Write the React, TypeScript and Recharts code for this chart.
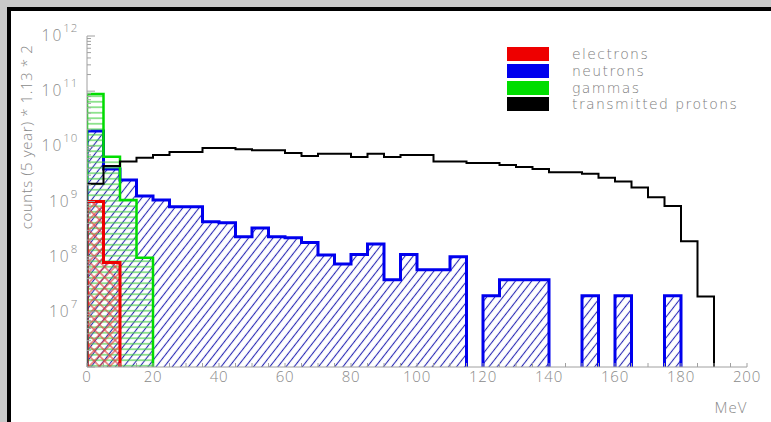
import {
  ComposedChart,
  Area,
  Line,
  XAxis,
  YAxis,
  Legend,
  Label,
} from 'recharts'

// bin low edges (MeV), each bin is 5 MeV wide
const BIN_LOW = [
  0, 5, 10, 15, 20, 25, 30, 35, 40, 45, 50, 55, 60, 65, 70, 75, 80, 85, 90, 95,
  100, 105, 110, 115, 120, 125, 130, 135, 140, 145, 150, 155, 160, 165, 170, 175, 180, 185, 190, 195,
]
const BIN_WIDTH = 5

const electrons = [
  1.0e9, 7.8e7, 0, 0, 0, 0, 0, 0, 0, 0, 0, 0, 0, 0, 0, 0, 0, 0, 0, 0,
  0, 0, 0, 0, 0, 0, 0, 0, 0, 0, 0, 0, 0, 0, 0, 0, 0, 0, 0, 0,
]
const neutrons = [
  1.9e10, 3.9e9, 2.45e9, 1.26e9, 1.07e9, 8.0e8, 8.0e8, 4.3e8, 4.1e8, 2.3e8,
  3.3e8, 2.3e8, 2.2e8, 1.8e8, 1.07e8, 7.4e7, 1.1e8, 1.7e8, 3.8e7, 1.1e8,
  5.8e7, 5.8e7, 1.0e8, 0, 1.95e7, 3.8e7, 3.8e7, 3.8e7, 0, 0,
  1.95e7, 0, 1.95e7, 0, 0, 1.95e7, 0, 0, 0, 0,
]
const gammas = [
  8.9e10, 6.5e9, 1.07e9, 9.6e7, 0, 0, 0, 0, 0, 0, 0, 0, 0, 0, 0, 0, 0, 0, 0, 0,
  0, 0, 0, 0, 0, 0, 0, 0, 0, 0, 0, 0, 0, 0, 0, 0, 0, 0, 0, 0,
]
const protons = [
  2.1e9, 4.4e9, 5.3e9, 6.2e9, 7.0e9, 7.9e9, 7.9e9, 9.3e9, 9.3e9, 8.9e9,
  8.5e9, 8.5e9, 7.6e9, 6.7e9, 7.3e9, 7.3e9, 6.4e9, 7.3e9, 6.4e9, 7.0e9,
  7.0e9, 5.3e9, 5.3e9, 5.0e9, 5.0e9, 4.6e9, 4.2e9, 3.9e9, 3.4e9, 3.4e9,
  3.2e9, 2.7e9, 2.3e9, 1.8e9, 1.2e9, 8.3e8, 1.9e8, 1.9e7, 0, 0,
]

const SERIES_NAMES = ['electrons', 'neutrons', 'gammas', 'transmitted protons']
const SERIES_COLORS = ['#ee0000', '#0000ee', '#00dd00', '#000000']

const X_TICKS = [
  0, 5, 10, 15, 20, 25, 30, 35, 40, 45, 50, 55, 60, 65, 70, 75, 80, 85, 90, 95,
  100, 105, 110, 115, 120, 125, 130, 135, 140, 145, 150, 155, 160, 165, 170, 175, 180, 185, 190, 195, 200,
]
const X_LABELS = [0, 20, 40, 60, 80, 100, 120, 140, 160, 180, 200]
const Y_DECADES = [1e6, 1e7, 1e8, 1e9, 1e10, 1e11, 1e12]
const Y_LABELED = [1e7, 1e8, 1e9, 1e10, 1e11, 1e12]
const Y_FLOOR = 1e6

const Y_TICKS = Y_DECADES.flatMap((d, i) =>
  i === Y_DECADES.length - 1 ? [d] : [d, 2 * d, 3 * d, 4 * d, 5 * d, 6 * d, 7 * d, 8 * d, 9 * d]
)

const AXIS_GREY = '#a0a0a0'
const TEXT_GREY = '#8a8a8a'
const FONT = "'Open Sans', 'DejaVu Sans', sans-serif"
const LEGEND_FONT = "'DejaVu Sans', sans-serif"

type Pt = { x: number; y: number | null }

// histogram outline: vertical edges down to the floor, breaks at empty bins
function outline(values: number[]): Pt[] {
  const pts: Pt[] = []
  let open = false
  values.forEach((v, i) => {
    const lo = BIN_LOW[i]
    const hi = lo + BIN_WIDTH
    if (v > 0) {
      if (!open) {
        pts.push({ x: lo, y: Y_FLOOR })
        open = true
      }
      pts.push({ x: lo, y: v }, { x: hi, y: v })
    } else if (open) {
      pts.push({ x: lo, y: Y_FLOOR }, { x: lo, y: null })
      open = false
    }
  })
  if (open) pts.push({ x: BIN_LOW[BIN_LOW.length - 1] + BIN_WIDTH, y: Y_FLOOR })
  return pts
}

function XTick(props: any) {
  const { x, y, payload } = props
  const v = payload.value
  return (
    <g>
      <line x1={x} x2={x} y1={y} y2={y - 4} stroke={AXIS_GREY} />
      {X_LABELS.includes(v) && (
        <text x={x} y={y + 15} textAnchor="middle" fill={TEXT_GREY} fontSize={15} letterSpacing={0.8} fontFamily={FONT} fontWeight={300}>
          {v}
        </text>
      )}
    </g>
  )
}

function YTick(props: any) {
  const { x, y, payload } = props
  const v = payload.value
  const major = Y_DECADES.some((d) => Math.abs(d - v) < d * 1e-6)
  const exp = Math.round(Math.log10(v))
  return (
    <g>
      <line x1={x} x2={x + (major ? 8 : 4)} y1={y} y2={y} stroke={AXIS_GREY} />
      {Y_LABELED.some((d) => Math.abs(d - v) < d * 1e-6) && (
        <text x={x - 9} y={y + 5} textAnchor="end" fill={TEXT_GREY} fontFamily={FONT} fontWeight={300}>
          <tspan fontSize={15.5} letterSpacing={2}>10</tspan>
          <tspan fontSize={11.5} dy={-9} letterSpacing={0.8}>{exp}</tspan>
        </text>
      )}
    </g>
  )
}

function LegendBox() {
  return (
    <div style={{ fontFamily: LEGEND_FONT, fontWeight: 200 }}>
      {SERIES_NAMES.map((name, i) => (
        <div key={name} style={{ display: 'flex', alignItems: 'center', height: 16.7 }}>
          <div style={{ width: 42, height: 14, background: SERIES_COLORS[i], marginRight: 23, flexShrink: 0 }} />
          <span
            style={{
              display: 'inline-block',
              color: '#7c7c7c',
              fontSize: 14,
              letterSpacing: 1.4,
              lineHeight: '14px',
              whiteSpace: 'nowrap',
            }}
          >
            {name}
          </span>
        </div>
      ))}
    </div>
  )
}

export default function App() {
  const ePts = outline(electrons)
  const nPts = outline(neutrons)
  const gPts = outline(gammas)
  const pPts = outline(protons)

  return (
    <div style={{ position: 'absolute', left: 0, top: 0, width: 771, height: 422, background: '#c9c9c9', overflow: 'hidden' }}>
      <div
        style={{
          position: 'absolute',
          left: 7,
          top: 7,
          width: 764,
          height: 415,
          background: '#ffffff',
          borderTop: '4px solid #000',
          borderLeft: '4px solid #000',
          boxSizing: 'border-box',
        }}
      />
      <div style={{ position: 'absolute', left: 0, top: 0 }}>
        <ComposedChart width={771} height={422} margin={{ top: 36, right: 24, bottom: 25, left: 27 }}>
          <defs>
            <pattern id="hatchBlue" patternUnits="userSpaceOnUse" width="6.4" height="6.4" patternTransform="rotate(-52)">
              <line x1="0" y1="3.2" x2="6.4" y2="3.2" stroke="#2a2ab4" strokeWidth="1.1" />
            </pattern>
            <pattern id="hatchGreen" patternUnits="userSpaceOnUse" width="6" height="5.5">
              <line x1="0" y1="2.75" x2="6" y2="2.75" stroke="#3fcf3f" strokeWidth="1.1" />
            </pattern>
            <pattern id="hatchRed" patternUnits="userSpaceOnUse" width="7.4" height="7.4" patternTransform="rotate(45)">
              <line x1="0" y1="3.7" x2="7.4" y2="3.7" stroke="#e04040" strokeWidth="1.1" />
              <line x1="3.7" y1="0" x2="3.7" y2="7.4" stroke="#e04040" strokeWidth="1.1" />
            </pattern>
          </defs>
          <XAxis
            dataKey="x"
            type="number"
            domain={[0, 200]}
            ticks={X_TICKS}
            interval={0}
            height={30}
            tickSize={0}
            tickMargin={0}
            tickLine={false}
            axisLine={{ stroke: AXIS_GREY }}
            tick={<XTick />}
            allowDataOverflow
          >
            <Label
              content={() => (
                <text x={731} y={413} textAnchor="middle" fill={TEXT_GREY} fontSize={15} letterSpacing={1} fontFamily={FONT} fontWeight={300}>
                  MeV
                </text>
              )}
            />
          </XAxis>
          <XAxis xAxisId="top" orientation="top" type="number" domain={[0, 200]} height={0} tick={false} tickLine={false} axisLine={{ stroke: AXIS_GREY }} />
          <YAxis
            scale="log"
            type="number"
            domain={[Y_FLOOR, 1e12]}
            ticks={Y_TICKS}
            interval={0}
            width={60}
            tickSize={0}
            tickMargin={0}
            tickLine={false}
            axisLine={{ stroke: AXIS_GREY }}
            tick={<YTick />}
            allowDataOverflow
          >
            <Label
              content={() => (
                <text
                  x={28}
                  y={137}
                  transform="rotate(-90 28 137)"
                  textAnchor="middle"
                  dominantBaseline="middle"
                  fill={TEXT_GREY}
                  fontSize={15}
                  letterSpacing={0.6}
                  fontFamily={FONT}
                  fontWeight={300}
                >
                  counts (5 year) * 1.13 * 2
                </text>
              )}
            />
          </YAxis>
          <YAxis yAxisId="right" orientation="right" width={0} tick={false} tickLine={false} axisLine={{ stroke: AXIS_GREY }} />
          <Legend
            layout="vertical"
            align="center"
            verticalAlign="middle"
            wrapperStyle={{ top: 46, left: 507, width: 240 }}
            content={() => <LegendBox />}
          />
          <Area
            data={nPts}
            dataKey="y"
            type="linear"
            baseValue={Y_FLOOR}
            stroke={SERIES_COLORS[1]}
            strokeWidth={3}
            fill="url(#hatchBlue)"
            fillOpacity={1}
            isAnimationActive={false}
            dot={false}
            activeDot={false}
          />
          <Area
            data={gPts}
            dataKey="y"
            type="linear"
            baseValue={Y_FLOOR}
            stroke={SERIES_COLORS[2]}
            strokeWidth={2.5}
            fill="url(#hatchGreen)"
            fillOpacity={1}
            isAnimationActive={false}
            dot={false}
            activeDot={false}
          />
          <Area
            data={ePts}
            dataKey="y"
            type="linear"
            baseValue={Y_FLOOR}
            stroke={SERIES_COLORS[0]}
            strokeWidth={3}
            fill="url(#hatchRed)"
            fillOpacity={1}
            isAnimationActive={false}
            dot={false}
            activeDot={false}
          />
          <Line
            data={pPts}
            dataKey="y"
            type="linear"
            stroke={SERIES_COLORS[3]}
            strokeWidth={2}
            dot={false}
            activeDot={false}
            isAnimationActive={false}
          />
        </ComposedChart>
      </div>
    </div>
  )
}
